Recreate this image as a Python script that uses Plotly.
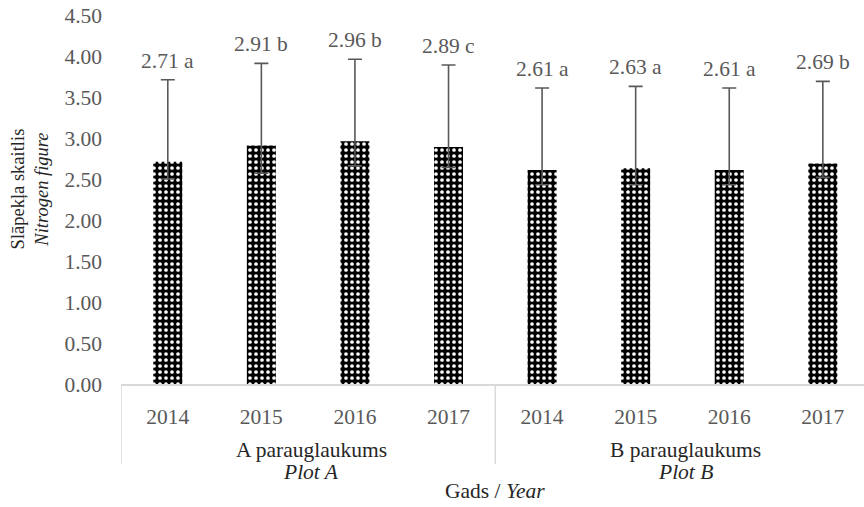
import plotly.graph_objects as go

# data
groups = ["A parauglaukums", "B parauglaukums"]
groups_en = ["Plot A", "Plot B"]
years = ["2014", "2015", "2016", "2017", "2014", "2015", "2016", "2017"]
values = [2.71, 2.91, 2.96, 2.89, 2.61, 2.63, 2.61, 2.69]
letters = ["a", "b", "b", "c", "a", "a", "a", "b"]
err_plus = [1.0, 1.0, 1.0, 1.0, 1.0, 1.0, 1.0, 1.0]
err_minus = [0.21, 0.34, 0.30, 0.25, 0.18, 0.20, 0.18, 0.17]

FONT = "Liberation Serif"
GREY = "#595959"
DARK = "#262626"
LINE = "#d9d9d9"

pos = list(range(len(values)))

fig = go.Figure()
fig.add_trace(go.Bar(
    x=pos,
    y=values,
    width=0.31,
    marker=dict(
        color="black",
        line=dict(width=0),
        pattern=dict(shape=".", bgcolor="black", fgcolor="white",
                     size=6, solidity=0.3, fillmode="replace"),
    ),
    error_y=dict(type="data", symmetric=False, array=err_plus,
                 arrayminus=err_minus, color=GREY, thickness=1.6, width=7),
    hoverinfo="skip",
))

annotations = []
# data labels above the error bars
for p, v, e, l in zip(pos, values, err_plus, letters):
    annotations.append(dict(x=p, y=v + e, xref="x", yref="y", text=f"{v:.2f} {l}",
                            showarrow=False, yanchor="bottom", yshift=5,
                            font=dict(size=21.5, color=GREY, family=FONT)))

# group labels under the years
per_group = len(values) // len(groups)
for i, (g, ge) in enumerate(zip(groups, groups_en)):
    xc = i * per_group + (per_group - 1) / 2
    annotations.append(dict(x=xc, y=-0.179, xref="x", yref="paper", text=g,
                            showarrow=False, yanchor="middle", xshift=3,
                            font=dict(size=21.5, color=DARK, family=FONT)))
    annotations.append(dict(x=xc, y=-0.2375, xref="x", yref="paper", text=f"<i>{ge}</i>",
                            showarrow=False, yanchor="middle", xshift=3,
                            font=dict(size=21.5, color=DARK, family=FONT)))

# axis titles
annotations.append(dict(x=(len(values) - 1) / 2, y=-0.29, xref="x", yref="paper",
                        text="Gads / <i>Year</i>", showarrow=False, yanchor="middle",
                        font=dict(size=21.5, color=DARK, family=FONT)))
annotations.append(dict(x=-0.1225, y=0.53, xref="paper", yref="paper",
                        text="Slāpekļa skaitlis<br><i>Nitrogen figure</i>",
                        textangle=-90, showarrow=False, xanchor="center", yanchor="middle",
                        font=dict(size=18.5, color=DARK, family=FONT)))

# dividers between the groups
shapes = []
for i in range(len(groups) + 1):
    xd = i * per_group - 0.5
    shapes.append(dict(type="line", xref="x", yref="paper", x0=xd, x1=xd, y0=0, y1=-0.217,
                       line=dict(color=LINE, width=1.5)))

fig.update_layout(
    width=864,
    height=507,
    margin=dict(l=121, r=0, t=15, b=123),
    paper_bgcolor="white",
    plot_bgcolor="white",
    showlegend=False,
    font=dict(family=FONT),
    annotations=annotations,
    shapes=shapes,
)
fig.update_xaxes(range=[-0.5, 7.44], tickvals=pos, ticktext=years, showgrid=False,
                 zeroline=False, showline=True, linecolor=LINE, linewidth=1.5,
                 ticks="", ticklabelstandoff=12, automargin=False,
                 tickfont=dict(size=21.5, color=GREY, family=FONT))
fig.update_yaxes(range=[0, 4.5], dtick=0.5, tickformat=".2f", showgrid=False,
                 zeroline=False, showline=False, ticks="", ticklabelstandoff=18,
                 automargin=False,
                 tickfont=dict(size=21.5, color=GREY, family=FONT))

# the page's default body margin would push the figure 8px off the window
fig.write_html("out.html", config={"displayModeBar": False},
               post_script="document.body.style.margin='0';")
